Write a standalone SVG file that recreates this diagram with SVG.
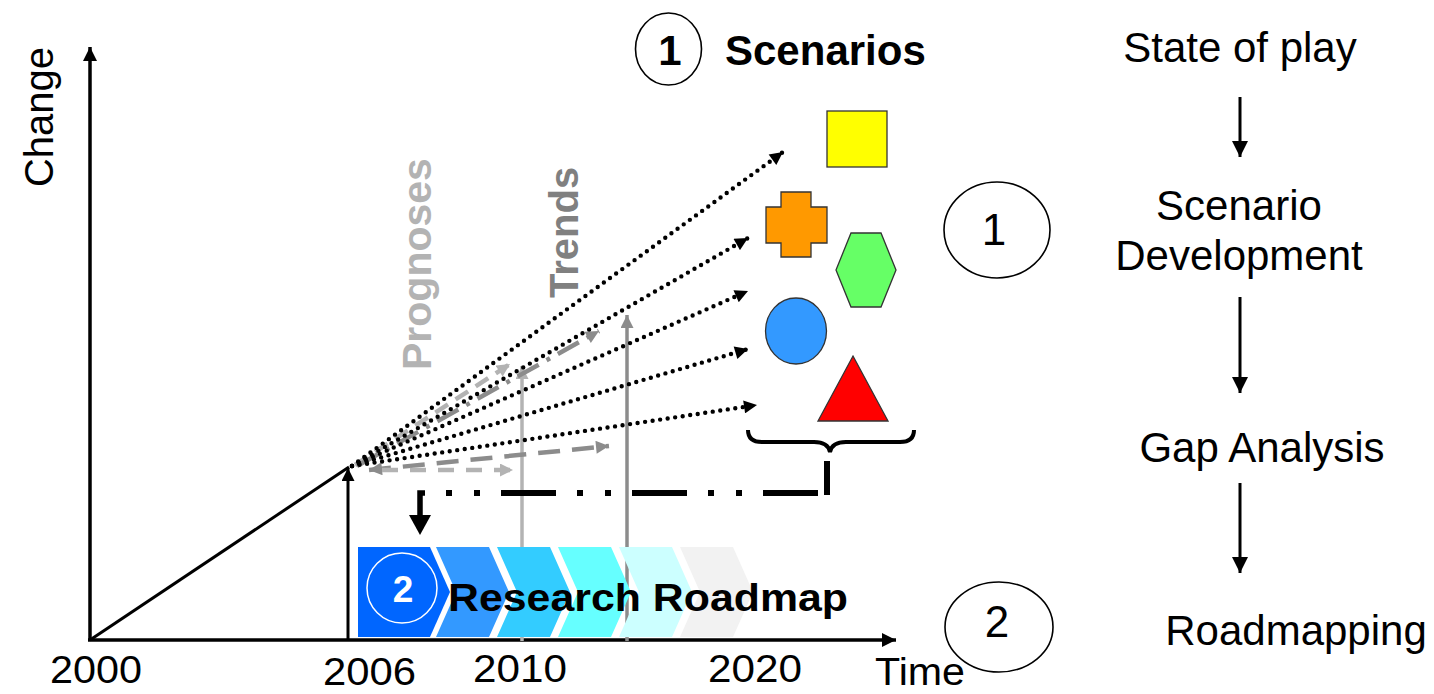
<svg xmlns="http://www.w3.org/2000/svg" width="1434" height="694" viewBox="0 0 1434 694">
<style>
text{font-family:"Liberation Sans",Arial,Helvetica,sans-serif;fill:#000}
.b{font-weight:bold}
.ax{stroke:#000;stroke-width:3.5;fill:none}
.dot{stroke:#000;stroke-width:4.4;stroke-linecap:round;stroke-dasharray:0 7.6;fill:none}
.shape{stroke:#333;stroke-width:1.3}
.flow{stroke:#000;stroke-width:3;fill:none}
.ell{fill:#fff;stroke:#000;stroke-width:1.6}
.lg{stroke:#b3b3b3;stroke-width:4.5;fill:none}
.dg{stroke:#8c8c8c;stroke-width:4.5;fill:none}
</style>
<defs>
<marker id="aAx" viewBox="0 0 10 10" refX="10" refY="5" markerWidth="14" markerHeight="14" markerUnits="userSpaceOnUse" orient="auto"><path d="M0,0 L10,5 L0,10 z" fill="#000"/></marker>
<marker id="aDot" viewBox="0 0 10 10" refX="10" refY="5" markerWidth="15" markerHeight="13" markerUnits="userSpaceOnUse" orient="auto"><path d="M0,0 L10,5 L0,10 z" fill="#000"/></marker>
<marker id="aFlow" viewBox="0 0 10 10" refX="10" refY="5" markerWidth="17" markerHeight="16" markerUnits="userSpaceOnUse" orient="auto"><path d="M0,0 L10,5 L0,10 z" fill="#000"/></marker>
<marker id="aLg" viewBox="0 0 10 10" refX="10" refY="5" markerWidth="14" markerHeight="13" markerUnits="userSpaceOnUse" orient="auto-start-reverse"><path d="M0,0 L10,5 L0,10 z" fill="#b3b3b3"/></marker>
<marker id="aDg" viewBox="0 0 10 10" refX="10" refY="5" markerWidth="14" markerHeight="13" markerUnits="userSpaceOnUse" orient="auto-start-reverse"><path d="M0,0 L10,5 L0,10 z" fill="#8c8c8c"/></marker>
</defs>

<g id="axes">
<line class="ax" x1="90" y1="641" x2="90" y2="47" marker-end="url(#aAx)"/>
<line class="ax" x1="88" y1="640" x2="896" y2="640" marker-end="url(#aAx)"/>
<text x="0" y="0" font-size="40" text-anchor="middle" transform="translate(53,117) rotate(-90)">Change</text>
<text x="50" y="683" font-size="38" textLength="92" lengthAdjust="spacingAndGlyphs">2000</text>
<text x="323" y="685" font-size="38" textLength="93" lengthAdjust="spacingAndGlyphs">2006</text>
<text x="473" y="682" font-size="38" textLength="94" lengthAdjust="spacingAndGlyphs">2010</text>
<text x="708" y="682" font-size="38" textLength="94" lengthAdjust="spacingAndGlyphs">2020</text>
<text x="875" y="685" font-size="38" textLength="90" lengthAdjust="spacingAndGlyphs">Time</text>
</g>

<g id="connectors">
<line x1="90" y1="640" x2="349" y2="467" stroke="#000" stroke-width="3"/>
<line x1="348" y1="640" x2="348" y2="468" stroke="#000" stroke-width="3" marker-end="url(#aDot)"/>
<line x1="522" y1="641" x2="522" y2="366" stroke="#b3b3b3" stroke-width="3.5" marker-end="url(#aLg)"/>
<line x1="627" y1="641" x2="627" y2="315" stroke="#8c8c8c" stroke-width="3.5" marker-end="url(#aDg)"/>
<path class="lg" d="M355,465 L510,364" stroke-dasharray="15 9" marker-end="url(#aLg)"/>
<path class="dg" d="M357,466 L599,331" stroke-dasharray="24 9 4 9" marker-end="url(#aDg)"/>
<path class="dg" d="M369,470 L609,446" stroke-dasharray="22 12" marker-start="url(#aDg)" marker-end="url(#aDg)"/>
<path class="lg" d="M382,470 L513,470" stroke-dasharray="16 12" marker-end="url(#aLg)"/>
<path class="dot" d="M352,466 L783,152" marker-end="url(#aDot)"/>
<path class="dot" d="M352,466 L748,238" marker-end="url(#aDot)"/>
<path class="dot" d="M352,466 L748,291" marker-end="url(#aDot)"/>
<path class="dot" d="M352,466 L748,349" marker-end="url(#aDot)"/>
<path class="dot" d="M352,466 L757,405" marker-end="url(#aDot)"/>
<path d="M748,430 Q748,442 762,442 L814,442 Q828,442 830,452 Q832,442 846,442 L900,442 Q914,442 914,430" fill="none" stroke="#000" stroke-width="4"/>
<line x1="827" y1="461" x2="827" y2="495" stroke="#000" stroke-width="6"/>
<path d="M818,493 H425" fill="none" stroke="#000" stroke-width="6" stroke-dasharray="55 21 6 22 6 21"/>
<path d="M425,493 H420 V517" fill="none" stroke="#000" stroke-width="5.5"/>
<polygon points="409,515 431,515 420,535" fill="#000"/>
<line class="flow" x1="1240" y1="97" x2="1240" y2="157" marker-end="url(#aFlow)"/>
<line class="flow" x1="1240" y1="297" x2="1240" y2="393" marker-end="url(#aFlow)"/>
<line class="flow" x1="1240" y1="483" x2="1240" y2="573" marker-end="url(#aFlow)"/>
</g>

<g id="labels-trends">
<text class="b" font-size="41" style="fill:#b3b3b3" transform="translate(431,370) rotate(-90)">Prognoses</text>
<text class="b" font-size="40" style="fill:#808080" transform="translate(578,298) rotate(-90)">Trends</text>
</g>

<g id="scenario-title">
<ellipse class="ell" cx="668.5" cy="49" rx="33" ry="36"/>
<text class="b" x="670" y="65" font-size="42" text-anchor="middle">1</text>
<text class="b" x="725" y="65" font-size="42">Scenarios</text>
</g>

<g id="shapes">
<rect class="shape" x="827" y="111" width="60" height="56" fill="#ffff00"/>
<polygon class="shape" fill="#ff9900" points="781,192 811,192 811,207 827,207 827,243 811,243 811,257 781,257 781,243 766,243 766,207 781,207"/>
<polygon class="shape" fill="#66ff66" points="851,233 881,233 896,270 881,307 851,307 836,270"/>
<ellipse class="shape" fill="#3399ff" cx="796" cy="331" rx="30.5" ry="33"/>
<polygon class="shape" fill="#ff0000" points="853,356 888,421 818,421"/>
</g>

<g id="roadmap">
<polygon fill="#0066ff" points="358,547 430,547 450,592 430,637 358,637"/>
<polygon fill="#3399ff" points="436,547 489,547 509,592 489,637 436,637 456,592"/>
<polygon fill="#33ccff" points="497,547 550,547 570,592 550,637 497,637 517,592"/>
<polygon fill="#66ffff" points="558,547 611,547 631,592 611,637 558,637 578,592"/>
<polygon fill="#ccffff" points="619,547 672,547 692,592 672,637 619,637 639,592"/>
<polygon fill="#f2f2f2" points="680,547 733,547 753,592 733,637 680,637 700,592"/>
<circle cx="402" cy="588" r="35" fill="none" stroke="#fff" stroke-width="1.5"/>
<text class="b" x="403" y="602" font-size="37" text-anchor="middle" style="fill:#fff">2</text>
<text class="b" x="448" y="611" font-size="38" textLength="400" lengthAdjust="spacingAndGlyphs">Research Roadmap</text>
</g>

<g id="marker-1">
<ellipse class="ell" cx="997" cy="230" rx="53" ry="48"/>
<text x="994" y="245" font-size="44" text-anchor="middle">1</text>
</g>
<g id="marker-2">
<ellipse class="ell" cx="999" cy="627" rx="54" ry="45"/>
<text x="997" y="637" font-size="44" text-anchor="middle">2</text>
</g>

<g id="step-state"><text x="1240" y="62" font-size="42" text-anchor="middle">State of play</text></g>
<g id="step-scenario"><text x="1239" y="220" font-size="42" text-anchor="middle">Scenario</text><text x="1239" y="270" font-size="42" text-anchor="middle">Development</text></g>
<g id="step-gap"><text x="1262" y="462" font-size="42" text-anchor="middle">Gap Analysis</text></g>
<g id="step-roadmap"><text x="1296" y="645" font-size="42" text-anchor="middle">Roadmapping</text></g>
</svg>
